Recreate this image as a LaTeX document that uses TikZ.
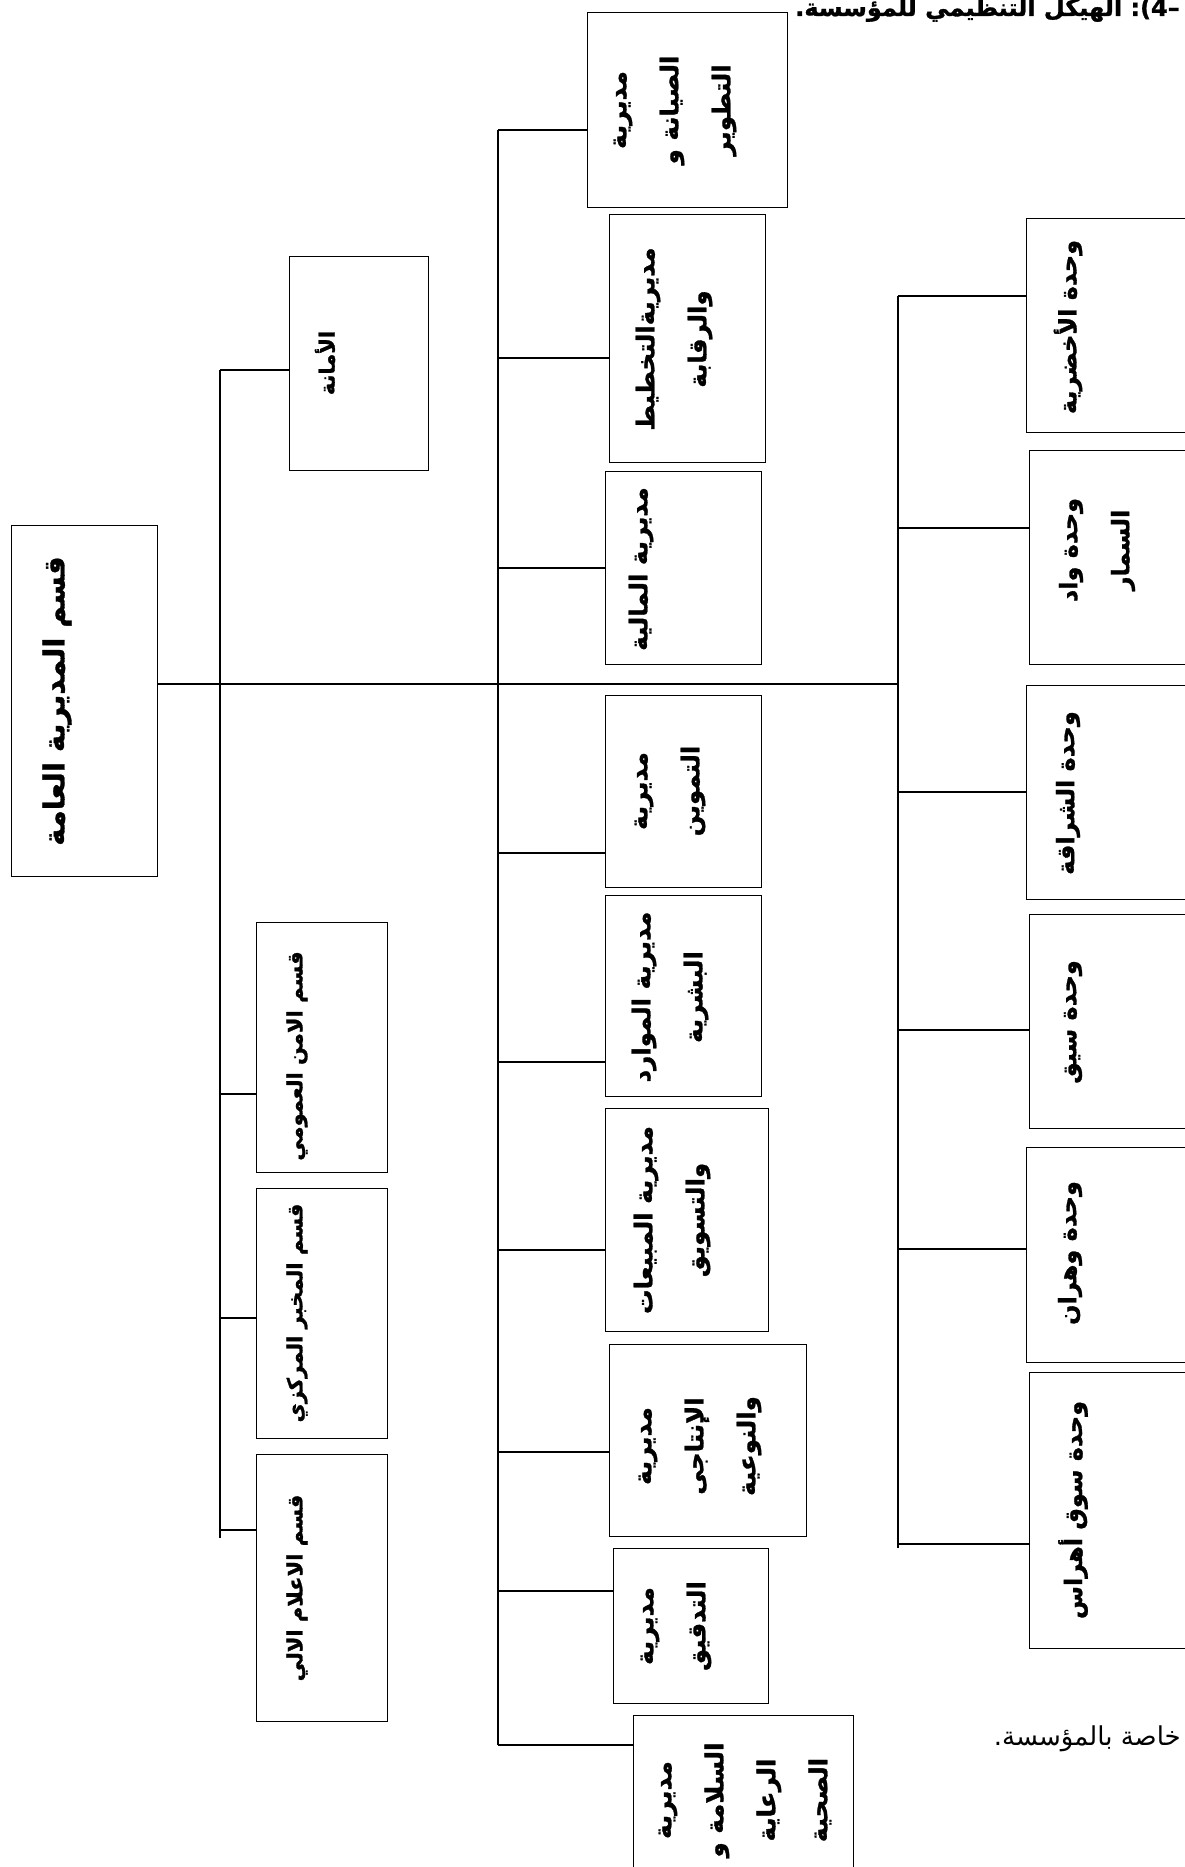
\documentclass[tikz,border=0pt]{standalone}
\usepackage{fontspec}
\TeXXeTstate=1
\newfontfamily\arabicfont[Script=Arabic]{DejaVu Sans}
\newfontfamily\arabicbold[Script=Arabic, FakeBold=1.2]{DejaVu Sans Bold}
\newfontfamily\latinfont[FakeBold=1.2]{DejaVu Sans Bold}
\newcommand\artx[1]{\beginR #1\endR}
\tikzset{
  box/.style={draw, line width=1.3pt, rectangle, inner sep=0pt, anchor=north west},
  conn/.style={line width=1.1pt},
  lbl/.style={rotate=90, align=center, inner sep=0pt, font={\arabicbold\fontsize{24.5}{52}\selectfont}},
  lblU/.style={lbl, font={\arabicbold\fontsize{24}{52}\selectfont}},
  lblL/.style={lbl, font={\arabicbold\fontsize{21}{52}\selectfont}},
  lblM/.style={lbl, font={\arabicbold\fontsize{29}{52}\selectfont}}
}
\begin{document}
\begin{tikzpicture}[x=1pt,y=-1pt]
\useasboundingbox (0,0) rectangle (1184,1867);
\fill[white] (0,0) rectangle (1184,1867);
% boxes
\node[box,minimum width=146pt,minimum height=351pt] (main) at (11,525) {};
\node[box,minimum width=139pt,minimum height=214pt] (amana) at (289,256) {};
\node[box,minimum width=131pt,minimum height=250pt] (amn) at (256,922) {};
\node[box,minimum width=131pt,minimum height=250pt] (mukh) at (256,1188) {};
\node[box,minimum width=131pt,minimum height=267pt] (ielam) at (256,1454) {};
\node[box,minimum width=200pt,minimum height=195pt] (d1) at (587,12) {};
\node[box,minimum width=156pt,minimum height=248pt] (d2) at (609,214) {};
\node[box,minimum width=156pt,minimum height=193pt] (d3) at (605,471) {};
\node[box,minimum width=156pt,minimum height=192pt] (d4) at (605,695) {};
\node[box,minimum width=156pt,minimum height=201pt] (d5) at (605,895) {};
\node[box,minimum width=163pt,minimum height=223pt] (d6) at (605,1108) {};
\node[box,minimum width=197pt,minimum height=192pt] (d7) at (609,1344) {};
\node[box,minimum width=155pt,minimum height=155pt] (d8) at (613,1548) {};
\node[box,minimum width=220pt,minimum height=170pt] (d9) at (633,1715) {};
\node[box,minimum width=174pt,minimum height=214pt] (u1) at (1026,218) {};
\node[box,minimum width=171pt,minimum height=214pt] (u2) at (1029,450) {};
\node[box,minimum width=174pt,minimum height=214pt] (u3) at (1026,685) {};
\node[box,minimum width=171pt,minimum height=214pt] (u4) at (1029,914) {};
\node[box,minimum width=174pt,minimum height=215pt] (u5) at (1026,1147) {};
\node[box,minimum width=171pt,minimum height=276pt] (u6) at (1029,1372) {};
% labels
\node[lblM] (tmain) at (57,701) {\artx{قسم المديرية العامة}};
\node[lblL] (tamana) at (325,363) {\artx{الأمانة}};
\node[lblL] (tamn) at (297,1056) {\artx{قسم الامن العمومي}};
\node[lblL] (tmukh) at (297,1313) {\artx{قسم المخبر المركزي}};
\node[lblL] (tielam) at (297,1588) {\artx{قسم الاعلام الالي}};
\node[lbl] (td1) at (675,110) {\artx{مديرية}\\\artx{الصيانة و}\\\artx{التطوير}};
\node[lbl] (td2) at (674,339) {\artx{مديريةالتخطيط}\\\artx{والرقابة}};
\node[lbl] (td3) at (641,569) {\artx{مديرية المالية}};
\node[lbl] (td4) at (670,791) {\artx{مديرية}\\\artx{التموين}};
\node[lbl] (td5) at (670,997) {\artx{مديرية الموارد}\\\artx{البشرية}};
\node[lbl] (td6) at (672,1220) {\artx{مديرية المبيعات}\\\artx{والتسويق}};
\node[lbl] (td7) at (700,1446) {\artx{مديرية}\\\artx{الإنتاجى}\\\artx{والنوعية}};
\node[lbl] (td8) at (676,1626) {\artx{مديرية}\\\artx{التدقيق}};
\node[lbl] (td9) at (745,1800) {\artx{مديرية}\\\artx{السلامة و}\\\artx{الرعاية}\\\artx{الصحية}};
\node[lblU] (tu1) at (1068,327) {\artx{وحدة الأخضرية}};
\node[lblU] (tu2) at (1097,550) {\artx{وحدة واد}\\\artx{السمار}};
\node[lblU] (tu3) at (1068,793) {\artx{وحدة الشراقة}};
\node[lblU] (tu4) at (1073,1022) {\artx{وحدة سيق}};
\node[lblU] (tu5) at (1070,1253) {\artx{وحدة وهران}};
\node[lblU] (tu6) at (1073,1510) {\artx{وحدة سوق أهراس}};
% title and note
\node[anchor=base west, inner sep=0pt, font={\arabicbold\fontsize{24}{28}\selectfont}] (title) at (795,16) {\artx{الهيكل التنظيمي للمؤسسة.}\ {\latinfont :(4–}};
\node[anchor=base east, inner sep=0pt, font={\arabicfont\fontsize{26}{30}\selectfont}] (note) at (1181,1745) {\artx{خاصة بالمؤسسة.}};
% buses
\coordinate (jL) at (220,684);
\coordinate (jU) at (898,684);
\draw[conn] (main.east |- jL) -- (jU);
\coordinate (Ltop) at (220,370);
\coordinate (Lbot) at (220,1538);
\coordinate (L1) at (220,1094);
\coordinate (L2) at (220,1318);
\coordinate (L3) at (220,1530);
\draw[conn] (Ltop) -- (Lbot);
\draw[conn] (Ltop) -- (Ltop -| amana.west);
\draw[conn] (L1) -- (L1 -| amn.west);
\draw[conn] (L2) -- (L2 -| mukh.west);
\draw[conn] (L3) -- (L3 -| ielam.west);
\coordinate (Mtop) at (498,130);
\coordinate (Mbot) at (498,1745);
\coordinate (M2) at (498,358);
\coordinate (M3) at (498,568);
\coordinate (M4) at (498,853);
\coordinate (M5) at (498,1062);
\coordinate (M6) at (498,1250);
\coordinate (M7) at (498,1452);
\coordinate (M8) at (498,1591);
\draw[conn] (Mtop) -- (Mbot);
\draw[conn] (Mtop) -- (Mtop -| d1.west);
\draw[conn] (M2) -- (M2 -| d2.west);
\draw[conn] (M3) -- (M3 -| d3.west);
\draw[conn] (M4) -- (M4 -| d4.west);
\draw[conn] (M5) -- (M5 -| d5.west);
\draw[conn] (M6) -- (M6 -| d6.west);
\draw[conn] (M7) -- (M7 -| d7.west);
\draw[conn] (M8) -- (M8 -| d8.west);
\draw[conn] (Mbot) -- (Mbot -| d9.west);
\coordinate (Utop) at (898,296);
\coordinate (Ubot) at (898,1548);
\coordinate (U2) at (898,528);
\coordinate (U3) at (898,792);
\coordinate (U4) at (898,1030);
\coordinate (U5) at (898,1249);
\coordinate (U6) at (898,1544);
\draw[conn] (Utop) -- (Ubot);
\draw[conn] (Utop) -- (Utop -| u1.west);
\draw[conn] (U2) -- (U2 -| u2.west);
\draw[conn] (U3) -- (U3 -| u3.west);
\draw[conn] (U4) -- (U4 -| u4.west);
\draw[conn] (U5) -- (U5 -| u5.west);
\draw[conn] (U6) -- (U6 -| u6.west);
\end{tikzpicture}
\end{document}
